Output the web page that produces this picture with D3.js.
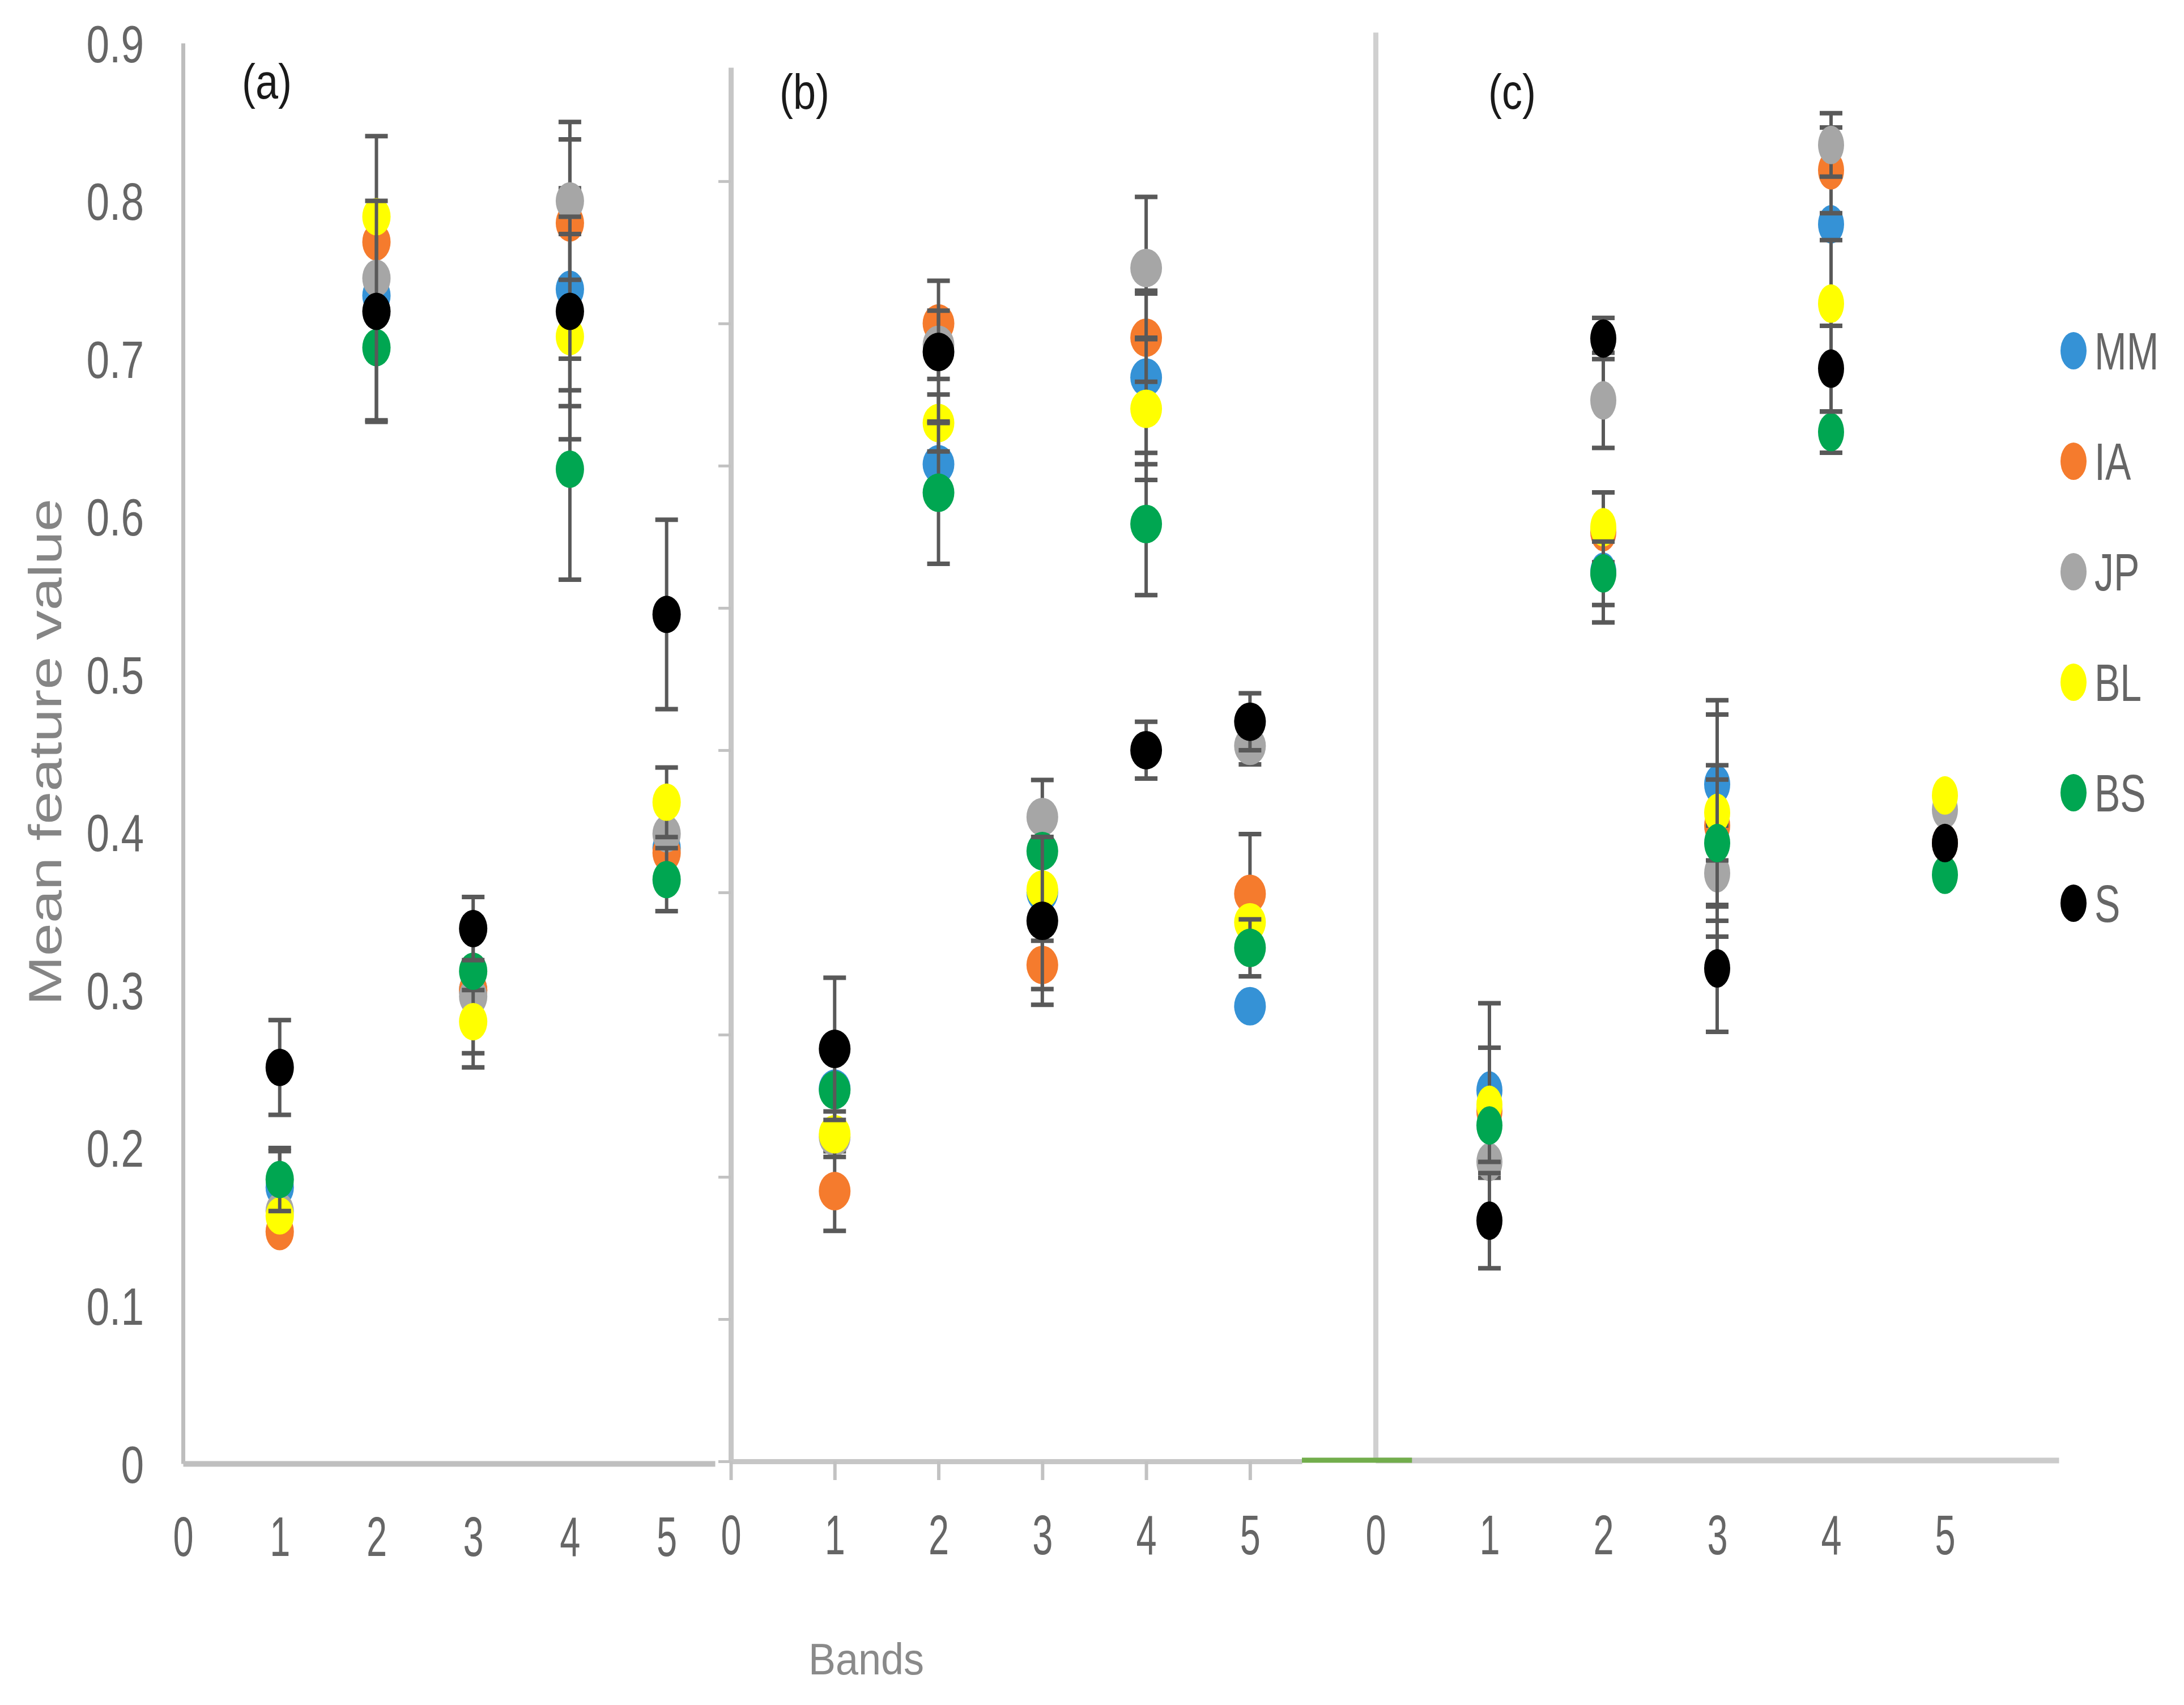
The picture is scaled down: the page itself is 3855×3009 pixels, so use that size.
<!DOCTYPE html>
<html>
<head>
<meta charset="utf-8">
<script src="https://cdn.jsdelivr.net/npm/d3@7"></script>
<style>
  body { margin: 0; background: #fff; }
  svg { display: block; }
  text { font-family: "Liberation Sans", Arial, sans-serif; }
</style>
</head>
<body>
<div id="chart"></div>
<script>
// === DATA ===
const series = ["MM", "IA", "JP", "BL", "BS", "S"];
const seriesColors = ["#3592d6", "#f57b2d", "#a6a6a6", "#ffff00", "#00a651", "#000000"];
const bands = [1, 2, 3, 4, 5];
const bandTicks = [0, 1, 2, 3, 4, 5];
const yTicks = [0, 0.1, 0.2, 0.3, 0.4, 0.5, 0.6, 0.7, 0.8, 0.9];
const panelLabels = ["(a)", "(b)", "(c)"];

// rows follow `series`, columns follow `bands`
const meansA = [
    [0.175, 0.740, 0.300, 0.744, 0.390],
    [0.147, 0.774, 0.300, 0.786, 0.387],
    [0.160, 0.751, 0.296, 0.800, 0.399],
    [0.157, 0.790, 0.280, 0.714, 0.419],
    [0.180, 0.707, 0.312, 0.630, 0.370],
    [0.251, 0.730, 0.339, 0.730, 0.538]
];
const errA = [
    [0.023, 0, 0, 0.064, 0],
    [0, 0, 0, 0.053, 0],
    [0, 0.090, 0.045, 0.050, 0],
    [0, 0, 0.020, 0.065, 0.022],
    [0.020, 0, 0, 0.070, 0.020],
    [0.030, 0.070, 0.020, 0.060, 0.060]
];

const meansB = [
    [0.262, 0.701, 0.400, 0.762, 0.320],
    [0.190, 0.800, 0.349, 0.790, 0.399],
    [0.228, 0.785, 0.453, 0.839, 0.503],
    [0.230, 0.730, 0.402, 0.740, 0.379],
    [0.261, 0.681, 0.429, 0.659, 0.361],
    [0.290, 0.780, 0.380, 0.500, 0.520]
];
const errB = [
    [0, 0, 0, 0.061, 0],
    [0.028, 0, 0.017, 0.031, 0.042],
    [0, 0.024, 0.026, 0.050, 0.013],
    [0.016, 0.020, 0, 0.050, 0.003],
    [0, 0.050, 0, 0.050, 0.020],
    [0.050, 0.050, 0.059, 0.020, 0.020]
];

const meansC = [
    [0.233, 0.560, 0.426, 0.779, 0.389],
    [0.220, 0.585, 0.400, 0.813, 0.389],
    [0.188, 0.668, 0.370, 0.829, 0.410],
    [0.224, 0.588, 0.408, 0.729, 0.419],
    [0.211, 0.559, 0.389, 0.648, 0.369],
    [0.151, 0.707, 0.310, 0.688, 0.389]
];
const errC = [
    [0.055, 0.032, 0.053, 0, 0],
    [0, 0, 0.070, 0.027, 0],
    [0, 0.030, 0.030, 0.020, 0],
    [0.036, 0.022, 0.030, 0.040, 0],
    [0, 0.020, 0.040, 0.013, 0],
    [0.030, 0.013, 0.040, 0.027, 0]
];

// === LAYOUT ===
const W = 3855, H = 3009;

const svg = d3.select("#chart").append("svg")
    .attr("width", W)
    .attr("height", H);

svg.append("rect").attr("width", W).attr("height", H).attr("fill", "#fff");

// each panel was pasted from its own chart, so each keeps its own scales
const xA = d3.scaleLinear().domain([0, 5.5]).range([323, 1262]);
const yA = d3.scaleLinear().domain([0, 0.9]).range([2583, 76]);
const xB = d3.scaleLinear().domain([0, 5.5]).range([1290, 2298]);
const yB = d3.scaleLinear().domain([0, 0.98]).range([2579, 119]);
const xC = d3.scaleLinear().domain([0, 6]).range([2428, 3634]);
const yC = d3.scaleLinear().domain([0, 0.9]).range([2577, 57]);

const labelColor = "#666666";
const fontFam = "Liberation Sans, Arial, sans-serif";

// === AXES ===
// panel (a): labelled y axis, unticked x axis
const gyA = svg.append("g")
    .attr("transform", `translate(${xA(0)},0)`)
    .attr("color", labelColor)
    .call(d3.axisLeft(yA).tickValues(yTicks).tickSize(0).tickSizeOuter(0)
        .tickFormat(d => d === 0 ? "0" : d3.format(".1f")(d)));
gyA.select(".domain").attr("stroke", "#bdbdbd").attr("stroke-width", 7);
gyA.selectAll(".tick text")
    .attr("x", null).attr("dy", null)
    .attr("font-size", 73)
    .attr("font-family", fontFam)
    .attr("text-anchor", "end")
    .attr("transform", "translate(-69,33) scale(1,1.28)");

const gxA = svg.append("g")
    .attr("transform", `translate(0,${yA(0)})`)
    .attr("color", labelColor)
    .call(d3.axisBottom(xA).tickValues(bandTicks).tickSize(0).tickSizeOuter(0).tickFormat(d3.format("d")));
gxA.select(".domain").attr("stroke", "#bfbfbf").attr("stroke-width", 10);
gxA.selectAll(".tick text")
    .attr("y", null).attr("dy", null)
    .attr("font-size", 65)
    .attr("font-family", fontFam)
    .attr("transform", "translate(0,163) scale(1,1.5)");

// panel (b): small unlabelled ticks on y, ticks under x
const gyB = svg.append("g")
    .attr("transform", `translate(${xB(0)},0)`)
    .attr("color", "#c2c2c2")
    .call(d3.axisLeft(yB).tickValues(yTicks).tickSize(22).tickSizeOuter(0).tickFormat(""));
gyB.select(".domain").attr("stroke", "#c6c6c6").attr("stroke-width", 9);
gyB.selectAll(".tick line").attr("stroke-width", 5);

const gxB = svg.append("g")
    .attr("transform", `translate(0,${yB(0)})`)
    .attr("color", "#c2c2c2")
    .call(d3.axisBottom(xB).tickValues(bandTicks).tickSize(33).tickSizeOuter(0).tickFormat(d3.format("d")));
gxB.select(".domain").attr("stroke", "#c6c6c6").attr("stroke-width", 9);
gxB.selectAll(".tick line").attr("stroke-width", 6);
gxB.selectAll(".tick text")
    .attr("y", null).attr("dy", null)
    .attr("fill", labelColor)
    .attr("font-size", 65)
    .attr("font-family", fontFam)
    .attr("transform", "translate(0,164) scale(1,1.5)");

// panel (c)
const gyC = svg.append("g")
    .attr("transform", `translate(${xC(0)},0)`)
    .call(d3.axisLeft(yC).tickValues([]).tickSizeOuter(0));
gyC.select(".domain").attr("stroke", "#d0d0d0").attr("stroke-width", 9);

const gxC = svg.append("g")
    .attr("transform", `translate(0,${yC(0)})`)
    .attr("color", labelColor)
    .call(d3.axisBottom(xC).tickValues(bandTicks).tickSize(0).tickSizeOuter(0).tickFormat(d3.format("d")));
gxC.select(".domain").attr("stroke", "#cbcbcb").attr("stroke-width", 10);
gxC.selectAll(".tick text")
    .attr("y", null).attr("dy", null)
    .attr("font-size", 65)
    .attr("font-family", fontFam)
    .attr("transform", "translate(0,166) scale(1,1.5)");

// stray green segment where panels (b) and (c) meet
svg.append("line")
    .attr("x1", xB(5.5)).attr("x2", xC(0.32))
    .attr("y1", yC(0)).attr("y2", yC(0))
    .attr("stroke", "#72ad4c")
    .attr("stroke-width", 9);

// === POINTS WITH ERROR BARS ===
const panels = [
    { x: xA, y: yA, means: meansA, errs: errA, rx: 25, ry: 33 },
    { x: xB, y: yB, means: meansB, errs: errB, rx: 28, ry: 34 },
    { x: xC, y: yC, means: meansC, errs: errC, rx: 23, ry: 34 }
];

const capHalf = 20;

panels.forEach(p => {
    series.forEach((s, i) => {
        const g = svg.append("g").attr("class", "series-" + s);
        const pts = bands.map((b, j) => ({ band: b, m: p.means[i][j], e: p.errs[i][j] }));

        // error bars sit under their own marker, over earlier series
        const eb = g.selectAll(".err")
            .data(pts.filter(d => d.e > 0))
            .join("g")
            .attr("class", "err")
            .attr("stroke", "#595959");
        eb.append("line")
            .attr("x1", d => p.x(d.band)).attr("x2", d => p.x(d.band))
            .attr("y1", d => p.y(d.m - d.e)).attr("y2", d => p.y(d.m + d.e))
            .attr("stroke-width", 6);
        eb.append("line")
            .attr("x1", d => p.x(d.band) - capHalf).attr("x2", d => p.x(d.band) + capHalf)
            .attr("y1", d => p.y(d.m + d.e)).attr("y2", d => p.y(d.m + d.e))
            .attr("stroke-width", 8);
        eb.append("line")
            .attr("x1", d => p.x(d.band) - capHalf).attr("x2", d => p.x(d.band) + capHalf)
            .attr("y1", d => p.y(d.m - d.e)).attr("y2", d => p.y(d.m - d.e))
            .attr("stroke-width", 8);

        g.selectAll(".pt")
            .data(pts)
            .join("ellipse")
            .attr("class", "pt")
            .attr("cx", d => p.x(d.band))
            .attr("cy", d => p.y(d.m))
            .attr("rx", p.rx)
            .attr("ry", p.ry)
            .attr("fill", seriesColors[i]);
    });
});

// === TEXT ===
const labelPos = [[427, 174], [1376, 192], [2627, 192]];
svg.selectAll(".panel-label")
    .data(panelLabels)
    .join("text")
    .attr("class", "panel-label")
    .attr("transform", (d, i) => `translate(${labelPos[i][0]},${labelPos[i][1]}) scale(1,1.2)`)
    .attr("font-size", 72)
    .attr("fill", "#1a1a1a")
    .text(d => d);

svg.append("text")
    .attr("transform", "translate(108,1327) scale(1,1.29) rotate(-90)")
    .attr("text-anchor", "middle")
    .attr("font-size", 81)
    .attr("fill", "#858585")
    .text("Mean feature value");

svg.append("text")
    .attr("transform", "translate(1529,2955) scale(1,1.08)")
    .attr("text-anchor", "middle")
    .attr("font-size", 72)
    .attr("fill", "#8a8a8a")
    .text("Bands");

// === LEGEND ===
const legendX = 3660, legendY = 619, legendStep = 195;
const leg = svg.selectAll(".legend")
    .data(series)
    .join("g")
    .attr("class", "legend")
    .attr("transform", (d, i) => `translate(${legendX},${legendY + i * legendStep})`);
leg.append("ellipse")
    .attr("rx", 23).attr("ry", 33)
    .attr("fill", (d, i) => seriesColors[i]);
leg.append("text")
    .attr("transform", "translate(37,33) scale(1,1.37)")
    .attr("font-size", 68)
    .attr("fill", labelColor)
    .text(d => d);
</script>
</body>
</html>
